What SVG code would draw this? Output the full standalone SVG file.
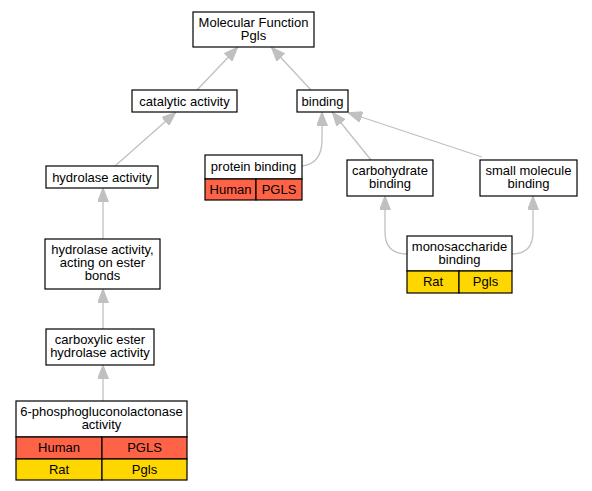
<svg xmlns="http://www.w3.org/2000/svg" width="592" height="491" viewBox="0 0 592 491">
<defs>
<style>
text{font-family:"Liberation Sans",Arial,sans-serif;font-size:13px;fill:#000;text-anchor:middle}
.b{fill:#fff;stroke:#000;stroke-width:1.2}
.h{fill:#ff6347;stroke:#000;stroke-width:1.2}
.r{fill:#ffd700;stroke:#000;stroke-width:1.2}
.e{fill:none;stroke:#c0c0c0;stroke-width:1.3}
.a{fill:#c0c0c0;stroke:#c0c0c0}
</style>
<marker id="ar" viewBox="0 0 14 11" refX="13" refY="5.5" markerWidth="14" markerHeight="11" markerUnits="userSpaceOnUse" orient="auto">
<path d="M0,0 L14,5.5 L0,11 Z" class="a"/>
</marker>
</defs>
<rect width="592" height="491" fill="#fff"/>
<g id="edges">
<path class="e" marker-end="url(#ar)" d="M197,90 L237,48"/>
<path class="e" marker-end="url(#ar)" d="M311,90 L272,48"/>
<path class="e" marker-end="url(#ar)" d="M115,166 L175,113"/>
<path class="e" marker-end="url(#ar)" d="M302,166 C318,164 322,152 322,140 L322,113"/>
<path class="e" marker-end="url(#ar)" d="M371,160 L333,113"/>
<path class="e" marker-end="url(#ar)" d="M482,157 L349,113"/>
<path class="e" marker-end="url(#ar)" d="M103,239 L103,189"/>
<path class="e" marker-end="url(#ar)" d="M103,329 L103,290"/>
<path class="e" marker-end="url(#ar)" d="M103,401 L103,366"/>
<path class="e" marker-end="url(#ar)" d="M407,254 C394,254 385,248 385,232 L385,197"/>
<path class="e" marker-end="url(#ar)" d="M512,254 C525,254 533,248 533,232 L533,197"/>
</g>
<g id="mf">
<rect class="b" x="193" y="12" width="121" height="35"/>
<text x="253.5" y="27">Molecular Function</text>
<text x="253.5" y="40">Pgls</text>
</g>
<g id="catalytic">
<rect class="b" x="132" y="90" width="105" height="22"/>
<text x="184.5" y="105.5">catalytic activity</text>
</g>
<g id="binding">
<rect class="b" x="297" y="90" width="51" height="22"/>
<text x="322.5" y="105.5">binding</text>
</g>
<g id="hydrolase">
<rect class="b" x="46" y="166" width="112" height="22"/>
<text x="102" y="181.5">hydrolase activity</text>
</g>
<g id="protein">
<rect class="b" x="205" y="155" width="97" height="24"/>
<text x="253.5" y="170.5">protein binding</text>
<rect class="h" x="205" y="179" width="51" height="21"/>
<rect class="h" x="256" y="179" width="46" height="21"/>
<text x="230.5" y="193.5">Human</text>
<text x="279" y="193.5">PGLS</text>
</g>
<g id="carbohydrate">
<rect class="b" x="347" y="160" width="86" height="36"/>
<text x="390" y="175">carbohydrate</text>
<text x="390" y="188">binding</text>
</g>
<g id="smallmol">
<rect class="b" x="480" y="160" width="97" height="36"/>
<text x="528.5" y="175">small molecule</text>
<text x="528.5" y="188">binding</text>
</g>
<g id="ester">
<rect class="b" x="45" y="239" width="115" height="50"/>
<text x="102.5" y="254">hydrolase activity,</text>
<text x="102.5" y="267">acting on ester</text>
<text x="102.5" y="280">bonds</text>
</g>
<g id="monosacch">
<rect class="b" x="407" y="236" width="105" height="35"/>
<text x="459.5" y="251">monosaccharide</text>
<text x="459.5" y="264">binding</text>
<rect class="r" x="407" y="271" width="52" height="22"/>
<rect class="r" x="459" y="271" width="53" height="22"/>
<text x="433" y="285.5">Rat</text>
<text x="485.5" y="285.5">Pgls</text>
</g>
<g id="carboxylic">
<rect class="b" x="46" y="329" width="108" height="36"/>
<text x="100" y="344">carboxylic ester</text>
<text x="100" y="357">hydrolase activity</text>
</g>
<g id="phospho">
<rect class="b" x="16" y="401" width="171" height="36"/>
<text x="101.5" y="416">6-phosphogluconolactonase</text>
<text x="101.5" y="429">activity</text>
<rect class="h" x="16" y="437" width="86" height="22"/>
<rect class="h" x="102" y="437" width="85" height="22"/>
<text x="59" y="451.5">Human</text>
<text x="144.5" y="451.5">PGLS</text>
<rect class="r" x="16" y="459" width="86" height="21"/>
<rect class="r" x="102" y="459" width="85" height="21"/>
<text x="59" y="473.5">Rat</text>
<text x="144.5" y="473.5">Pgls</text>
</g>
</svg>
